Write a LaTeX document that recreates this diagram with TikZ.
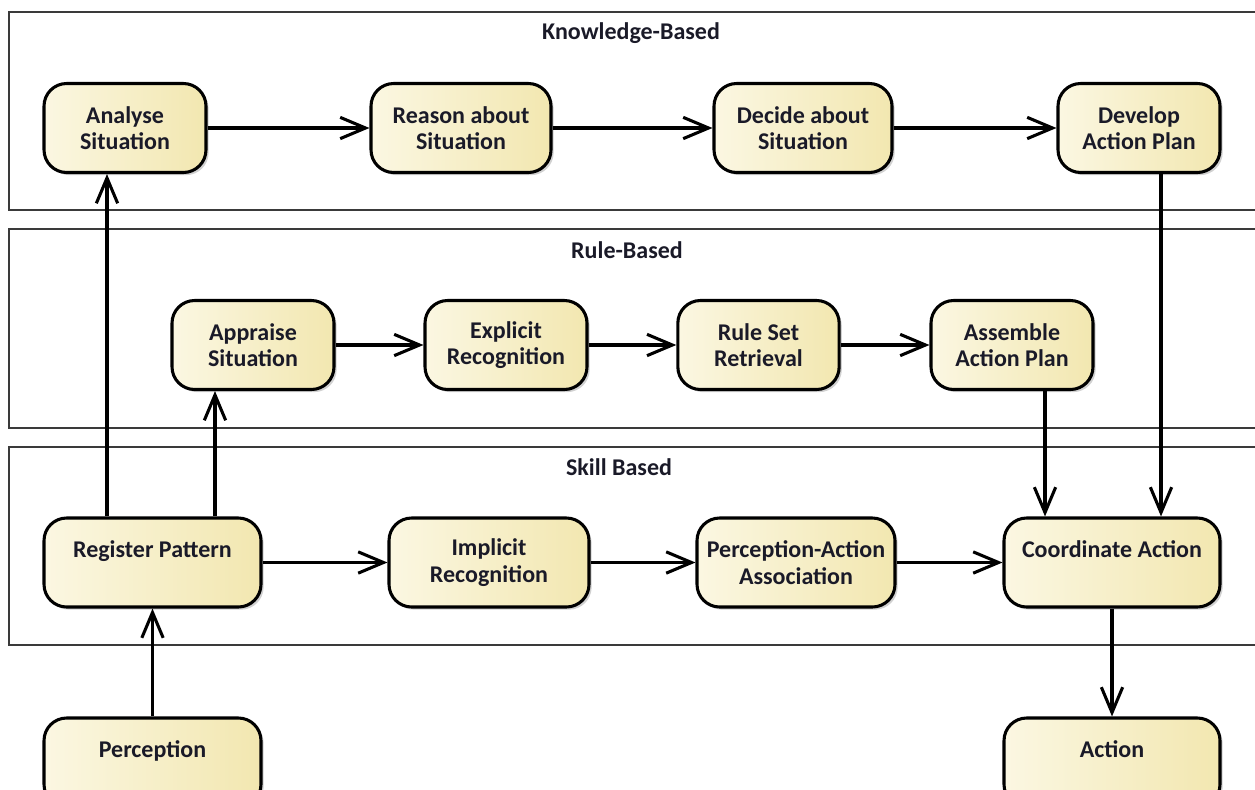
\documentclass[tikz,border=0pt]{standalone}
\usepackage{fontspec}
\setmainfont{Carlito}
\usetikzlibrary{arrows.meta,shadows}
\definecolor{creamL}{HTML}{FBF7E2}
\definecolor{creamR}{HTML}{F2E7B0}
\definecolor{panelc}{HTML}{3A3A3A}
\definecolor{txt}{HTML}{1A1A28}
\begin{document}
\begin{tikzpicture}[x=0.75pt,y=-0.75pt,
  every node/.style={font=\fontsize{18}{20}\selectfont\bfseries, text=txt, align=center, inner sep=0pt},
  act/.style={draw=black, line width=2.3pt, rounded corners=17pt, left color=creamL, right color=creamR,
    minimum height=66.75pt,
    drop shadow={shadow xshift=2pt, shadow yshift=-2pt, opacity=0.18, fill=black}},
  arr/.style={line width=2.3pt, -{Straight Barb[length=19pt,width=16pt,line width=2.3pt]}},
  panel/.style={draw=panelc, line width=1.1pt},
  ptitle/.style={font=\fontsize{18}{20}\selectfont\bfseries}
]
\useasboundingbox (0,0) rectangle (1255,789);
% panels
\draw[panel] (1260,12) -- (9,12) -- (9,210) -- (1260,210);
\draw[panel] (1260,229) -- (9,229) -- (9,428) -- (1260,428);
\draw[panel] (1260,447) -- (9,447) -- (9,645) -- (1260,645);
\node[ptitle] (t1) at (631,33) {Knowledge-Based};
\node[ptitle] (t2) at (627,250) {Rule-Based};
\node[ptitle] (t3) at (619,467) {Skill Based};
% knowledge
\node[act, minimum width=121.5pt] (an) at (125,128) {Analyse\\Situation};
\node[act, minimum width=135pt] (rs) at (461,128) {Reason about\\Situation};
\node[act, minimum width=133.5pt] (ds) at (803,128) {Decide about\\Situation};
\node[act, minimum width=121.5pt] (dp) at (1139,128) {Develop\\Action Plan};
% rule
\node[act, minimum width=121.5pt] (ap) at (253,345) {Appraise\\Situation};
\node[act, minimum width=121.5pt] (er) at (506,345) {Explicit\\Recognition};
\node[act, minimum width=121pt] (rr) at (758.5,345) {Rule Set\\Retrieval};
\node[act, minimum width=121.5pt] (aa) at (1012,345) {Assemble\\Action Plan};
% skill
\node[act, minimum width=162.75pt] (rp) at (152.5,562.5) {Register Pattern\\\phantom{X}};
\node[act, minimum width=150pt] (ir) at (489,562.5) {Implicit\\Recognition};
\node[act, minimum width=148.5pt] (pa) at (796,562.5) {Perception-Action\\Association};
\node[act, minimum width=162pt] (ca) at (1112,562.5) {Coordinate Action\\\phantom{X}};
% outside
\node[act, minimum width=162.75pt] (pe) at (152.5,762.5) {Perception\\\phantom{X}};
\node[act, minimum width=162pt] (ac) at (1112,762.5) {Action\\\phantom{X}};
% helper x positions
\coordinate (x107) at (107,0);
\coordinate (x215) at (215,0);
\coordinate (x1045) at (1045,0);
\coordinate (x1161) at (1161,0);
% connectors
\draw[arr] (an) -- (rs);
\draw[arr] (rs) -- (ds);
\draw[arr] (ds) -- (dp);
\draw[arr] (ap) -- (er);
\draw[arr] (er) -- (rr);
\draw[arr] (rr) -- (aa);
\draw[arr] (rp) -- (ir);
\draw[arr] (ir) -- (pa);
\draw[arr] (pa) -- (ca);
\draw[arr] (rp.north -| x107) -- (an.south -| x107);
\draw[arr] (rp.north -| x215) -- (ap.south -| x215);
\draw[arr] (pe) -- (rp);
\draw[arr] (aa.south -| x1045) -- (ca.north -| x1045);
\draw[arr] (dp.south -| x1161) -- (ca.north -| x1161);
\draw[arr] (ca) -- (ac);
\end{tikzpicture}
\end{document}
